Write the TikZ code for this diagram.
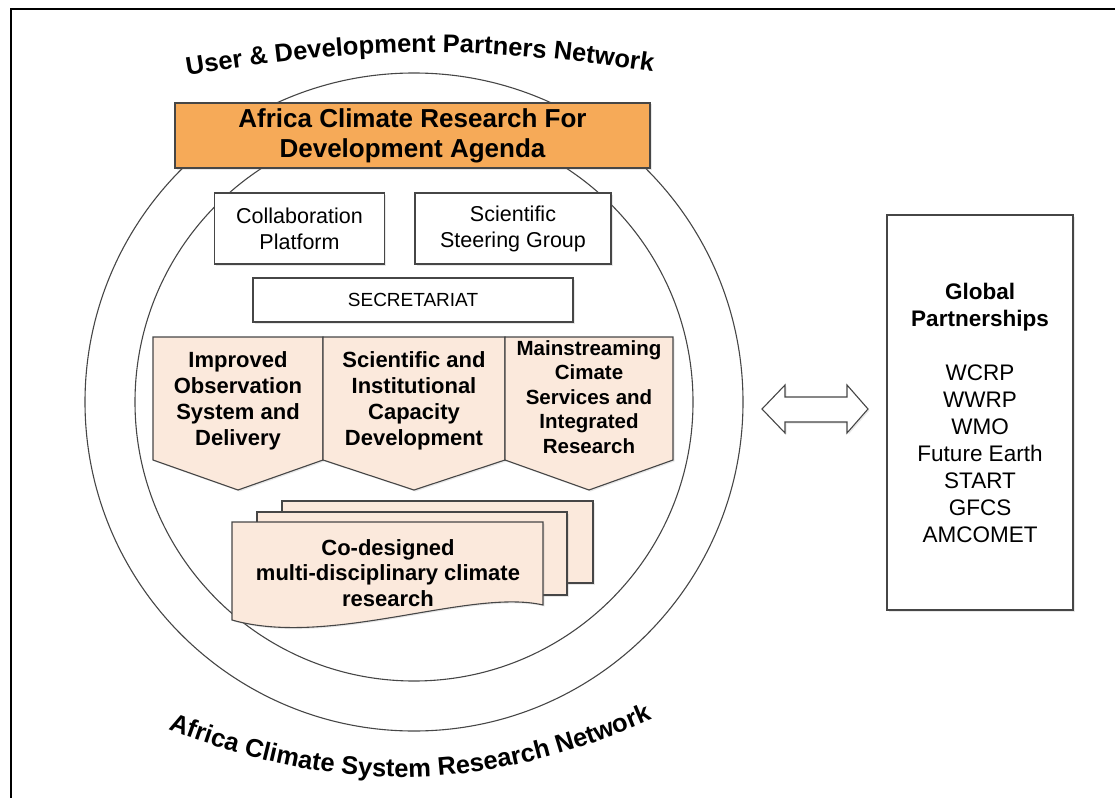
\documentclass[tikz,border=0pt]{standalone}
\usepackage{fontspec}
\setmainfont{Liberation Sans}
\usetikzlibrary{decorations.text,shadows}

\definecolor{agendaorange}{RGB}{246,170,88}
\definecolor{peach}{RGB}{251,233,220}
\definecolor{linegray}{RGB}{70,70,70}

\begin{document}
\begin{tikzpicture}[x=1pt,y=-1pt,
    ring/.style={draw=linegray,line width=1.1pt},
    shade/.style={drop shadow={opacity=0.18,shadow xshift=1.5pt,shadow yshift=-1.5pt}},
    box/.style={draw=linegray,line width=1.1pt,fill=white,inner sep=0pt,align=center,shade},
    pillar/.style={draw=linegray,line width=1.1pt,fill=peach,shade},
    pillartext/.style={align=center,font=\bfseries\fontsize{22}{26}\selectfont},
    docbox/.style={draw=linegray,line width=1.1pt,fill=peach,shade}]

\useasboundingbox (0,0) rectangle (1115,797);
\draw[line width=1.5pt] (11,9) rectangle (1130,812);

% Two network rings
\coordinate (hub) at (414,402);
\draw[ring] (hub) circle[radius=329];
\draw[ring] (hub) circle[radius=279];

% Ring titles
\path[decorate,decoration={text along path,text align=center,
    text={|\bfseries\fontsize{25.5}{25.5}\selectfont|User {\&} Development Partners Network}}]
    (150,82) to[bend left=10] (690,78);
\path[decorate,decoration={text along path,text align=center,
    text={|\bfseries\fontsize{25.5}{25.5}\selectfont|Africa Climate System Research Network}}]
    (140,718) to[bend right=24] (680,707);

% Governance boxes
\node[box,fill=agendaorange,minimum width=475pt,minimum height=65pt,
    font=\bfseries\fontsize{26}{30}\selectfont] (agenda) at (412.5,135.5)
    {Africa Climate Research For\\Development Agenda};
\node[box,minimum width=170pt,minimum height=71pt,font=\fontsize{21.5}{26}\selectfont]
    (collab) at (299.5,228.5) {Collaboration\\Platform};
\node[box,minimum width=196pt,minimum height=71pt,font=\fontsize{21.5}{26}\selectfont]
    (steering) at (513,228.5) {Scientific\\Steering Group};
\node[box,minimum width=320pt,minimum height=44pt,font=\fontsize{19}{22}\selectfont]
    (secretariat) at (413,300) {SECRETARIAT};

% Three pillars
\draw[pillar] (153,337) -- (323,337) -- (323,460) -- (238,490) -- (153,460) -- cycle;
\draw[pillar] (323,337) -- (505,337) -- (505,460) -- (414,490) -- (323,460) -- cycle;
\draw[pillar] (505,337) -- (673,337) -- (673,460) -- (589,490) -- (505,460) -- cycle;
\node[pillartext] (observation) at (238,401)
    {Improved\\Observation\\System and\\Delivery};
\node[pillartext] (capacity) at (414,401)
    {Scientific and\\Institutional\\Capacity\\Development};
\node[pillartext,font=\bfseries\fontsize{20.5}{24.5}\selectfont] (mainstream) at (589,397)
    {Mainstreaming\\Cimate\\Services and\\Integrated\\Research};

% Stacked research documents
\draw[docbox] (282,501) rectangle (593,583);
\draw[docbox] (257,512) rectangle (567,595);
\draw[docbox] (232,522) -- (543,522) -- (543,605)
    .. controls (470,588) and (330,648) .. (232,620) -- cycle;
\node[pillartext,font=\bfseries\fontsize{22}{25.5}\selectfont] (codesign) at (388,573)
    {Co-designed\\multi-disciplinary climate\\research};

% Global partners
\node[box,minimum width=186pt,minimum height=395pt,font=\fontsize{22.5}{27}\selectfont]
    (global) at (980,412.5)
    {\textbf{Global}\\\textbf{Partnerships}\\[27pt]WCRP\\WWRP\\WMO\\Future Earth\\START\\GFCS\\AMCOMET};

% Two-way link
\draw[box] (762,409) -- (785,385) -- (785,397) -- (847,397) -- (847,385) -- (868,409)
    -- (847,433) -- (847,422) -- (785,422) -- (785,433) -- cycle;

\end{tikzpicture}
\end{document}
